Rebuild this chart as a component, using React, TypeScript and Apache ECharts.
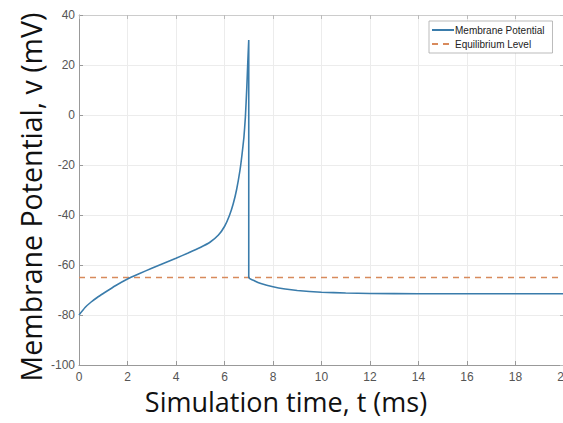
import React, { useEffect, useRef } from "react";
import * as echarts from "echarts";

const timeMs = [0, 0.25, 0.5, 0.75, 1, 1.5, 2, 2.5, 3, 3.5, 4, 4.5, 5, 5.4, 5.75, 6, 6.2, 6.36, 6.5, 6.64, 6.72, 6.8, 6.86, 6.92, 6.96, 7.0, 7.0, 7.25, 7.5, 8, 8.5, 9, 10, 11, 12, 14, 16, 18, 20];
const potential = [-80, -77.0, -74.8, -73.0, -71.4, -68.3, -65.6, -63.4, -61.3, -59.3, -57.3, -55.2, -53.0, -50.9, -48.0, -44.6, -40.3, -35.5, -29.8, -22.0, -16.0, -9.0, -1.0, 11.0, 21.0, 30.0, -65.0, -66.4, -67.4, -68.7, -69.6, -70.2, -70.9, -71.2, -71.4, -71.5, -71.5, -71.5, -71.5];
const equilibriumTime = [0, 20];
const equilibriumLevel = [-65, -65];
const seriesNames = ["Membrane Potential", "Equilibrium Level"];
const xTitle = "Simulation time, t (ms)";
const yTitle = "Membrane Potential, v (mV)";

export default function App() {
  const ref = useRef<HTMLDivElement>(null);
  useEffect(() => {
    if (!ref.current) return;
    const chart = echarts.init(ref.current, null, { renderer: "svg" });
    const tickFont = { fontFamily: "Liberation Sans", fontSize: 12, color: "#555" };
    chart.setOption({
      animation: false,
      backgroundColor: "#fff",
      grid: { left: 79, top: 15, width: 485, height: 350, containLabel: false, outerBoundsMode: "none" },
      legend: {
        orient: "vertical",
        left: 429,
        top: 21,
        itemWidth: 22,
        itemHeight: 8,
        itemGap: 4,
        padding: [4, 8, 4, 2],
        borderColor: "#aaa",
        borderWidth: 0.8,
        backgroundColor: "#fff",
        itemStyle: { opacity: 0 },
        textStyle: { fontFamily: "Liberation Sans", fontSize: 10, color: "#222", padding: [0, 0, 0, -4] },
        data: seriesNames,
      },
      xAxis: [
        {
          type: "value",
          min: 0,
          max: 20,
          interval: 2,
          axisLine: { onZero: false, lineStyle: { color: "#999", width: 1 } },
          axisTick: { inside: true, length: 4, lineStyle: { color: "#999" } },
          axisLabel: { ...tickFont, margin: 6 },
          splitLine: { show: true, lineStyle: { color: "#ececec", width: 1 } },
        },
        {
          type: "value",
          position: "top",
          min: 0,
          max: 20,
          interval: 2,
          axisLine: { show: true, onZero: false, lineStyle: { color: "#ccc", width: 1 } },
          axisTick: { show: true, inside: true, length: 4, lineStyle: { color: "#bbb" } },
          axisLabel: { show: false },
          splitLine: { show: false },
        },
      ],
      yAxis: [
        {
          type: "value",
          min: -100,
          max: 40,
          interval: 20,
          axisLine: { show: true, onZero: false, lineStyle: { color: "#999", width: 1 } },
          axisTick: { show: true, inside: true, length: 4, lineStyle: { color: "#999" } },
          axisLabel: { ...tickFont, margin: 4 },
          splitLine: { show: true, lineStyle: { color: "#ececec", width: 1 } },
        },
        {
          type: "value",
          position: "right",
          min: -100,
          max: 40,
          interval: 20,
          axisLine: { show: true, onZero: false, lineStyle: { color: "#ccc", width: 1 } },
          axisTick: { show: true, inside: true, length: 4, lineStyle: { color: "#bbb" } },
          axisLabel: { show: false },
          splitLine: { show: false },
        },
      ],
      series: [
        {
          name: seriesNames[0],
          type: "line",
          showSymbol: false,
          symbol: "none",
          smooth: 0.15,
          data: timeMs.map((t, i) => [t, potential[i]]),
          lineStyle: { color: "#3a7cab", width: 1.6 },
          itemStyle: { color: "#3a7cab" },
          z: 3,
        },
        {
          name: seriesNames[1],
          type: "line",
          showSymbol: false,
          symbol: "none",
          data: equilibriumTime.map((t, i) => [t, equilibriumLevel[i]]),
          lineStyle: { color: "#d88a5c", width: 1.6, type: [6, 5] },
          itemStyle: { color: "#d88a5c" },
          z: 2,
        },
      ],
      graphic: [
        {
          type: "text",
          x: 31,
          y: 197,
          rotation: Math.PI / 2,
          style: {
            text: yTitle,
            fontFamily: "Open Sans",
            fontSize: 28.5,
            fill: "#111",
            align: "center",
            verticalAlign: "middle",
          },
        },
        {
          type: "text",
          x: 286,
          y: 401,
          style: {
            text: xTitle,
            fontFamily: "Open Sans",
            fontSize: 27,
            fill: "#111",
            align: "center",
            verticalAlign: "middle",
          },
        },
      ],
    });
    return () => chart.dispose();
  }, []);
  return (
    <div
      ref={ref}
      style={{ position: "fixed", left: 0, top: 0, width: 563, height: 423, background: "#fff" }}
    />
  );
}
